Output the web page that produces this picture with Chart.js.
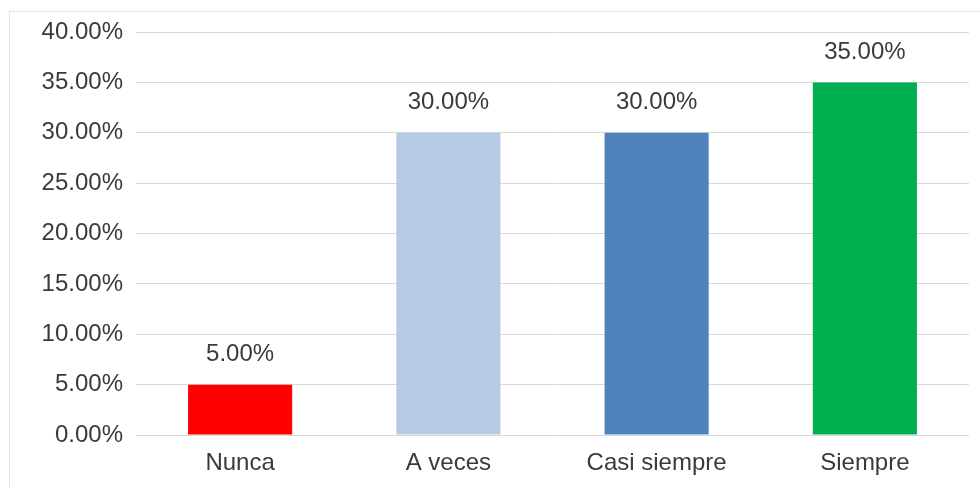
<!DOCTYPE html>
<html>
<head>
<meta charset="utf-8">
<script src="https://cdn.jsdelivr.net/npm/chart.js@4.4.0/dist/chart.umd.min.js"></script>
<style>
  html, body { margin: 0; padding: 0; background: #fff; }
  #wrap { position: relative; width: 980px; height: 487px; overflow: hidden; }
  #frame { position: absolute; left: 9px; top: 11px; width: 1000px; height: 500px;
           border-left: 1px solid #e3e3e3; border-top: 1px solid #e3e3e3; }
  canvas { position: absolute; left: 0; top: 0; }
</style>
</head>
<body>
<div id="wrap">
  <div id="frame"></div>
  <canvas id="chart" width="980" height="487"></canvas>
</div>
<script>
const categories = ["Nunca", "A veces", "Casi siempre", "Siempre"];
const percentages = [5, 30, 30, 35];
const barColors = ["#ff0000", "#b7cae3", "#4f81bd", "#00b050"];

const textColor = "#3a3a3a";
const fontFamily = "'Liberation Sans', Arial, sans-serif";

// draws the value above each bar
const valueLabels = {
  id: "valueLabels",
  afterDatasetsDraw(chart) {
    const ctx = chart.ctx;
    const meta = chart.getDatasetMeta(0);
    ctx.save();
    ctx.font = "24px " + fontFamily;
    ctx.fillStyle = textColor;
    ctx.textAlign = "center";
    ctx.textBaseline = "middle";
    meta.data.forEach((bar, i) => {
      ctx.fillText(percentages[i].toFixed(2) + "%", bar.x, bar.y - 30);
    });
    ctx.restore();
  }
};

new Chart(document.getElementById("chart").getContext("2d"), {
  type: "bar",
  data: {
    labels: categories,
    datasets: [{
      data: percentages,
      backgroundColor: barColors,
      borderWidth: 0,
      categoryPercentage: 1,
      barPercentage: 0.5
    }]
  },
  options: {
    responsive: false,
    animation: false,
    layout: { padding: { top: 32, right: 11, left: 0, bottom: 0 } },
    plugins: {
      legend: { display: false },
      tooltip: { enabled: false }
    },
    scales: {
      x: {
        grid: { display: false, drawTicks: false },
        border: { display: false },
        ticks: {
          color: textColor,
          font: { family: fontFamily, size: 24 },
          padding: 14,
          maxRotation: 0
        },
        afterFit(scale) { scale.height = 52; }
      },
      y: {
        min: 0,
        max: 40,
        grid: { color: "#d9d9d9", lineWidth: 1, drawTicks: false },
        border: { display: false },
        ticks: {
          stepSize: 5,
          color: textColor,
          font: { family: fontFamily, size: 24 },
          padding: 13,
          callback: (v) => v.toFixed(2) + "%"
        },
        afterFit(scale) { scale.width = 136; }
      }
    }
  },
  plugins: [valueLabels]
});
</script>
</body>
</html>
